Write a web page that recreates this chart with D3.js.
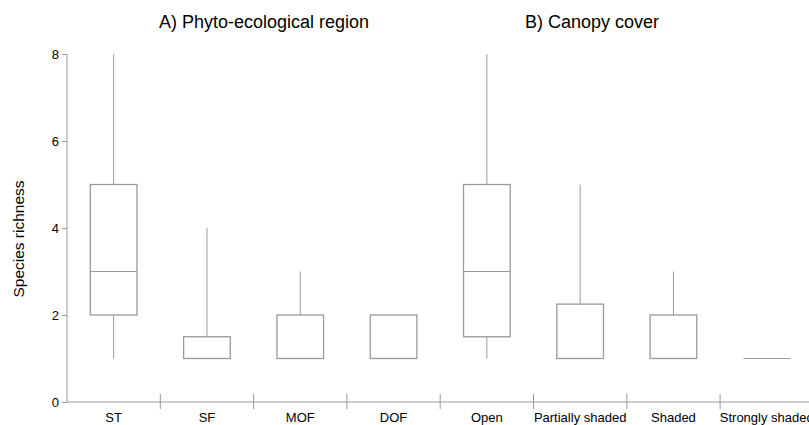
<!DOCTYPE html>
<html>
<head>
<meta charset="utf-8">
<script src="https://cdn.jsdelivr.net/npm/d3@7"></script>
<style>
  body { margin: 0; background: #fff; }
  text { font-family: "Liberation Sans", Arial, sans-serif; }
</style>
</head>
<body>
<div id="chart"></div>
<script>
// categories of both panels, left to right
var categories = ["ST", "SF", "MOF", "DOF", "Open", "Partially shaded", "Shaded", "Strongly shaded"];
// box statistics
var mins    = [1, 1, 1, 1, 1,   1,    1, 1];
var q1s     = [2, 1, 1, 1, 1.5, 1,    1, 1];
var medians = [3, 1, 1, 1, 3,   1,    1, 1];
var q3s     = [5, 1.5, 2, 2, 5, 2.25, 2, 1];
var maxs    = [8, 4, 3, 2, 8,   5,    3, 1];
var yTicks = [0, 2, 4, 6, 8];
var titles = ["A) Phyto-ecological region", "B) Canopy cover"];

var margin = {top: 54, right: 0, bottom: 23, left: 67},
    width = 809 - margin.left - margin.right,
    height = 425 - margin.top - margin.bottom;

var stroke = "#9a9a9a";

var svg = d3.select("#chart")
  .append("svg")
    .attr("width", 809)
    .attr("height", 425)
  .append("g")
    .attr("transform", "translate(" + margin.left + "," + margin.top + ")");

var x = d3.scaleBand()
  .domain(categories)
  .range([0, 93.3 * categories.length])
  .padding(0);

var y = d3.scaleLinear()
  .domain([0, 8])
  .range([height, 0]);

// y axis
var yAxis = svg.append("g")
  .call(d3.axisLeft(y).tickValues(yTicks).tickSize(5).tickPadding(3));
yAxis.select(".domain").attr("stroke", stroke).attr("d", "M0," + y(8) + "V" + height);
yAxis.selectAll(".tick line").attr("stroke", stroke);
yAxis.selectAll(".tick text").attr("font-size", 13).attr("fill", "#000")
  .attr("font-family", "Liberation Sans, Arial, sans-serif");

// x axis with ticks between categories
var xg = svg.append("g").attr("transform", "translate(0," + height + ")");
xg.append("line")
  .attr("x1", 0).attr("x2", width + 10)
  .attr("stroke", stroke);
xg.selectAll(".sep")
  .data(categories.slice(1))
  .enter().append("line")
    .attr("x1", function(d) { return x(d); })
    .attr("x2", function(d) { return x(d); })
    .attr("y1", -8).attr("y2", 7)
    .attr("stroke", stroke);
xg.selectAll(".lab")
  .data(categories)
  .enter().append("text")
    .attr("x", function(d) { return x(d) + x.bandwidth() / 2; })
    .attr("y", 20)
    .attr("text-anchor", "middle")
    .attr("font-size", 13)
    .text(function(d) { return d; });

// boxes
var boxW = x.bandwidth() * 0.5;
var data = categories.map(function(c, i) {
  return {cat: c, min: mins[i], q1: q1s[i], med: medians[i], q3: q3s[i], max: maxs[i]};
});

var g = svg.selectAll(".box")
  .data(data)
  .enter().append("g")
    .attr("transform", function(d) { return "translate(" + (x(d.cat) + x.bandwidth() / 2) + ",0)"; });

g.append("line")
  .attr("y1", function(d) { return y(d.max); })
  .attr("y2", function(d) { return y(d.q3); })
  .attr("stroke", stroke);
g.append("line")
  .attr("y1", function(d) { return y(d.q1); })
  .attr("y2", function(d) { return y(d.min); })
  .attr("stroke", stroke);
g.append("rect")
  .attr("x", -boxW / 2)
  .attr("width", boxW)
  .attr("y", function(d) { return y(d.q3); })
  .attr("height", function(d) { return y(d.q1) - y(d.q3); })
  .attr("fill", "none")
  .attr("stroke", stroke)
  .attr("stroke-width", 1.3);
g.append("line")
  .attr("x1", -boxW / 2).attr("x2", boxW / 2)
  .attr("y1", function(d) { return y(d.med); })
  .attr("y2", function(d) { return y(d.med); })
  .attr("stroke", stroke);

// panel titles
svg.selectAll(".title")
  .data(titles)
  .enter().append("text")
    .attr("x", function(d, i) { return i == 0 ? 264 - margin.left : 592 - margin.left; })
    .attr("y", 28 - margin.top)
    .attr("text-anchor", "middle")
    .attr("font-size", 18)
    .text(function(d) { return d; });

// y label
svg.append("text")
  .attr("transform", "translate(" + (24 - margin.left) + "," + (239 - margin.top) + ") rotate(-90)")
  .attr("text-anchor", "middle")
  .attr("font-size", 15.5)
  .text("Species richness");
</script>
</body>
</html>
